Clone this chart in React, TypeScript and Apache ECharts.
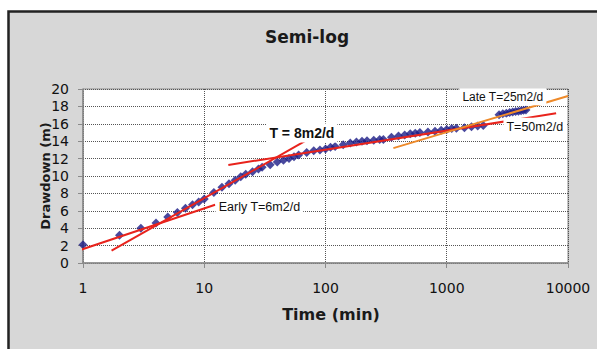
import React, { useEffect, useRef } from "react";
import * as echarts from "echarts";

// Measured data: time (min) and drawdown (m)
const timeMin = [
  1, 2, 3, 4, 5, 6, 7, 8, 9, 10, 12, 14, 16, 18, 20, 22, 25, 28, 30, 35, 40, 45,
  50, 55, 60, 70, 80, 90, 100, 110, 120, 140, 160, 180, 200, 220, 250, 280, 300,
  350, 400, 450, 500, 550, 600, 700, 800, 900, 1000, 1100, 1200, 1400, 1600,
  1800, 2000, 2700, 2900, 3100, 3300, 3500, 3700, 3900, 4100, 4300, 4500,
];
const drawdown = [
  2.1, 3.2, 4.0, 4.6, 5.3, 5.8, 6.3, 6.7, 7.0, 7.35, 8.1, 8.7, 9.1, 9.5, 9.9,
  10.2, 10.5, 10.8, 11.0, 11.3, 11.6, 11.8, 12.0, 12.2, 12.4, 12.7, 12.9, 13.0,
  13.1, 13.3, 13.4, 13.6, 13.8, 13.9, 14.0, 14.05, 14.1, 14.2, 14.2, 14.45,
  14.6, 14.7, 14.85, 14.9, 15.0, 15.05, 15.15, 15.25, 15.35, 15.45, 15.5,
  15.55, 15.65, 15.75, 15.8, 17.05, 17.15, 17.2, 17.3, 17.35, 17.4, 17.45,
  17.5, 17.55, 17.6,
];

// Fitted straight lines (endpoints: time, drawdown)
const earlyLineT = [0.86, 12.3];
const earlyLineS = [1.3, 6.7];
const t8LineT = [1.72, 67.6];
const t8LineS = [1.41, 14.0];
const t50LineT = [15.8, 7980];
const t50LineS = [11.27, 17.2];
const lateLineT = [363, 10000];
const lateLineS = [13.2, 19.2];

// Annotations (centre of text, in data units)
const annoText = ["Late T=25m2/d", "T=50m2/d", "T = 8m2/d", "Early T=6m2/d"];
const annoT = [2900, 5320, 63.9, 28.5];
const annoS = [19.1, 15.67, 14.94, 6.44];
const annoBold = [false, false, true, false];
const annoSize = [12, 12.5, 14, 12.5];

const yTicks = [0, 20, 2]; // min, max, interval
const xRange = [1, 10000];

const pairs = (t: number[], s: number[]) => t.map((v, i) => [v, s[i]]);

export default function App() {
  const ref = useRef<HTMLDivElement>(null);
  useEffect(() => {
    document.body.style.margin = "0";
    const chart = echarts.init(ref.current!, undefined, { renderer: "svg" });
    const lineSeries = (t: number[], s: number[], color: string) => ({
      type: "line",
      data: pairs(t, s),
      showSymbol: false,
      symbol: "none",
      clip: false,
      lineStyle: { color, width: 2 },
      z: 5,
      silent: true,
    });
    const frame = {
      type: "rect",
      z: -100,
      shape: { x: 8.5, y: 11.5, width: 700, height: 500 },
      style: { fill: "#d7d7d7", stroke: "#222", lineWidth: 2.5 },
    };
    chart.setOption({
      animation: false,
      textStyle: { fontFamily: "DejaVu Sans" },
      title: {
        text: "Semi-log",
        left: 265,
        top: 28,
        padding: 0,
        textStyle: {
          fontFamily: "DejaVu Sans",
          fontWeight: "bold",
          fontSize: 17,
          color: "#1a1a1a",
        },
      },
      graphic: [frame],
      grid: {
        left: 83,
        top: 89,
        right: 29,
        bottom: 86,
        show: true,
        backgroundColor: "#ffffff",
        borderColor: "#8a8a8a",
        borderWidth: 1,
      },
      xAxis: {
        type: "log",
        logBase: 10,
        min: xRange[0],
        max: xRange[1],
        name: "Time (min)",
        nameLocation: "middle",
        nameGap: 43,
        nameMoveOverlap: false,
        nameTextStyle: {
          fontFamily: "DejaVu Sans",
          fontWeight: "bold",
          fontSize: 16,
          color: "#1a1a1a",
          padding: [0, 0, 0, 11],
        },
        axisLine: { show: true, lineStyle: { color: "#8a8a8a", width: 1.5 } },
        axisTick: { show: true, inside: false, length: 5, lineStyle: { color: "#8a8a8a" } },
        axisLabel: {
          fontSize: 14,
          color: "#111",
          margin: 18,
          fontFamily: "DejaVu Sans",
          formatter: (v: number) => String(Math.round(v)),
        },
        splitLine: { show: true, lineStyle: { color: "#555", type: "dotted", width: 1 } },
        minorTick: { show: false },
      },
      yAxis: {
        type: "value",
        min: yTicks[0],
        max: yTicks[1],
        interval: yTicks[2],
        name: "Drawdown (m)",
        nameLocation: "middle",
        nameGap: 31,
        nameMoveOverlap: false,
        nameTextStyle: {
          fontFamily: "DejaVu Sans",
          fontWeight: "bold",
          fontSize: 13,
          color: "#1a1a1a",
        },
        axisLine: { show: true, lineStyle: { color: "#8a8a8a", width: 1.5 } },
        axisTick: { show: true, inside: false, length: 5, lineStyle: { color: "#8a8a8a" } },
        axisLabel: { fontSize: 14, color: "#111", margin: 14, fontFamily: "DejaVu Sans" },
        splitLine: { show: true, lineStyle: { color: "#555", type: "dotted", width: 1 } },
      },
      series: [
        {
          type: "scatter",
          data: pairs(timeMin, drawdown),
          symbol: "diamond",
          symbolSize: 9,
          itemStyle: { color: "#1c1c86" },
          z: 3,
          silent: true,
        },
        lineSeries(earlyLineT, earlyLineS, "#e8231c"),
        lineSeries(t8LineT, t8LineS, "#e8231c"),
        lineSeries(t50LineT, t50LineS, "#e8231c"),
        lineSeries(lateLineT, lateLineS, "#ee8a2a"),
      ],
    });
    // Annotation boxes placed through the axes' own scales
    const annos = annoText.map((txt, i) => {
      const p = chart.convertToPixel({ gridIndex: 0 }, [annoT[i], annoS[i]]) as number[];
      return {
        type: "text",
        z: 100,
        x: p[0],
        y: p[1],
        style: {
          text: txt,
          align: "center",
          verticalAlign: "middle",
          fontFamily: "Liberation Sans, Arial",
          fontSize: annoSize[i],
          fontWeight: annoBold[i] ? "bold" : "normal",
          fill: "#111",
          backgroundColor: "#ffffff",
          padding: [3, 3, 2, 3],
        },
      };
    });
    chart.setOption({ graphic: [frame, ...annos] }, { replaceMerge: ["graphic"] });
    return () => chart.dispose();
  }, []);
  return <div ref={ref} style={{ width: 597, height: 349, background: "#fff" }} />;
}
